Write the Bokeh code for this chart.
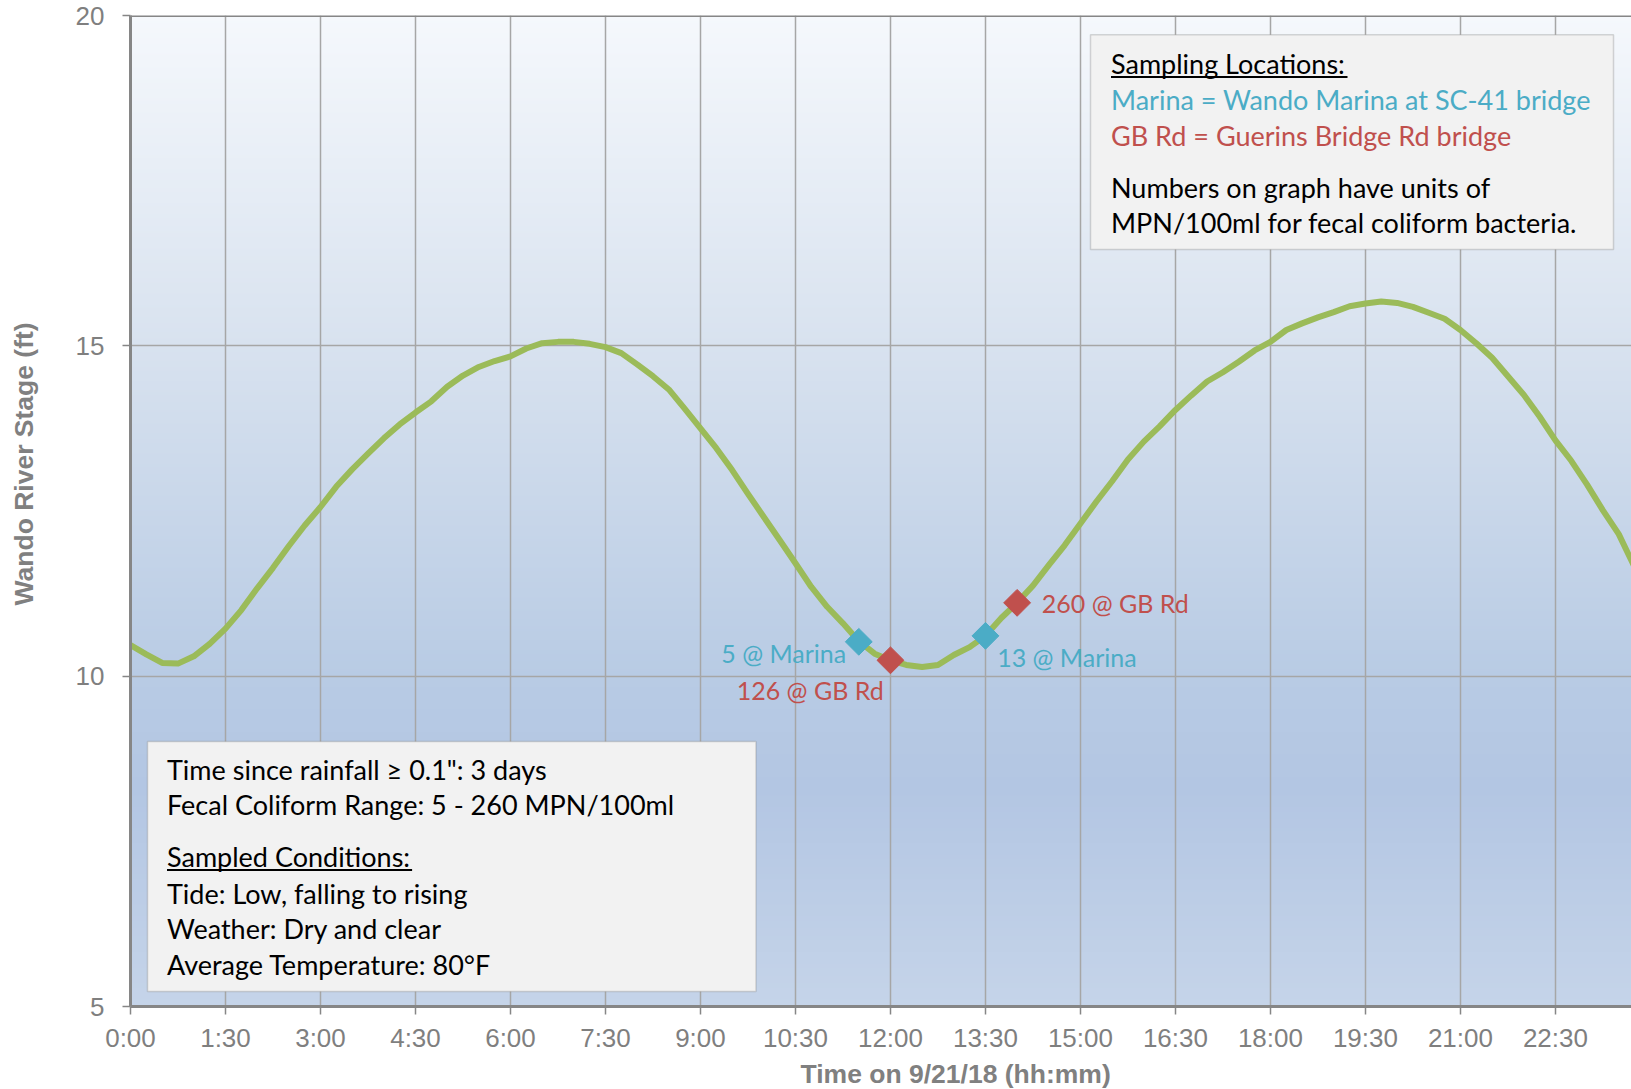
import numpy as np
from bokeh.plotting import figure
from bokeh.models import FixedTicker, Label, BoxAnnotation, Span, Range1d, Title
from bokeh.embed import file_html
from bokeh.resources import INLINE

# ---------------- data ----------------
time_h = [0.00, 0.25, 0.50, 0.75, 1.00, 1.25, 1.50, 1.75, 2.00, 2.25, 2.50, 2.75,
          3.00, 3.25, 3.50, 3.75, 4.00, 4.25, 4.50, 4.75, 5.00, 5.25, 5.50, 5.75,
          6.00, 6.25, 6.50, 6.75, 7.00, 7.25, 7.50, 7.75, 8.00, 8.25, 8.50, 8.75,
          9.00, 9.25, 9.50, 9.75, 10.00, 10.25, 10.50, 10.75, 11.00, 11.25, 11.50, 11.75,
          12.00, 12.25, 12.50, 12.75, 13.00, 13.25, 13.50, 13.75, 14.00, 14.25, 14.50, 14.75,
          15.00, 15.25, 15.50, 15.75, 16.00, 16.25, 16.50, 16.75, 17.00, 17.25, 17.50, 17.75,
          18.00, 18.25, 18.50, 18.75, 19.00, 19.25, 19.50, 19.75, 20.00, 20.25, 20.50, 20.75,
          21.00, 21.25, 21.50, 21.75, 22.00, 22.25, 22.50, 22.75, 23.00, 23.25, 23.50, 23.75]
stage_ft = [10.47, 10.33, 10.20, 10.19, 10.30, 10.49, 10.72, 11.00, 11.33, 11.64, 11.97, 12.28,
            12.56, 12.87, 13.13, 13.37, 13.60, 13.81, 13.99, 14.16, 14.38, 14.55, 14.68, 14.77,
            14.84, 14.96, 15.04, 15.06, 15.06, 15.03, 14.98, 14.89, 14.72, 14.54, 14.34, 14.05,
            13.75, 13.45, 13.12, 12.76, 12.41, 12.06, 11.71, 11.35, 11.05, 10.80, 10.53, 10.34,
            10.24, 10.17, 10.14, 10.17, 10.32, 10.44, 10.61, 10.88, 11.11, 11.37, 11.68, 11.98,
            12.31, 12.64, 12.95, 13.28, 13.55, 13.78, 14.03, 14.25, 14.46, 14.60, 14.76, 14.93,
            15.06, 15.24, 15.34, 15.43, 15.51, 15.60, 15.64, 15.67, 15.65, 15.59, 15.50, 15.41,
            15.24, 15.04, 14.82, 14.54, 14.26, 13.93, 13.57, 13.26, 12.90, 12.51, 12.15, 11.65]

marina_time = [11.5, 13.5]
marina_stage = [10.52, 10.61]
marina_label = ["5 @ Marina", "13 @ Marina"]

gb_time = [12.0, 14.0]
gb_stage = [10.24, 11.11]
gb_label = ["126 @ GB Rd", "260 @ GB Rd"]

x_ticks = [0.0, 1.5, 3.0, 4.5, 6.0, 7.5, 9.0, 10.5, 12.0, 13.5, 15.0, 16.5, 18.0, 19.5, 21.0, 22.5]
x_tick_labels = ["0:00", "1:30", "3:00", "4:30", "6:00", "7:30", "9:00", "10:30", "12:00",
                 "13:30", "15:00", "16:30", "18:00", "19:30", "21:00", "22:30"]
y_ticks = [5, 10, 15, 20]

locations_title = "Sampling Locations:"
locations_marina = "Marina = Wando Marina at SC-41 bridge"
locations_gb = "GB Rd = Guerins Bridge Rd bridge"
units_note = ["Numbers on graph have units of", "MPN/100ml for fecal coliform bacteria."]
info_lines = ['Time since rainfall \u2265 0.1": 3 days', "Fecal Coliform Range: 5 - 260 MPN/100ml"]
cond_title = "Sampled Conditions:"
cond_lines = ["Tide: Low, falling to rising", "Weather: Dry and clear", "Average Temperature: 80\u00b0F"]
x_title = "Time on 9/21/18 (hh:mm)"
y_title = "Wando River Stage (ft)"

# ---------------- layout / style ----------------
W, H = 1631, 1089
FL, FT, FB = 130, 15, 83
PX_PER_H = 63.33
FRAME_H = H - FT - FB
PX_PER_FT = FRAME_H / 15.0
X_END = (W - FL) / PX_PER_H
LBL_DY = 8.5  # labels render this much lower than their anchor


def X(px):
    return (px - FL) / PX_PER_H


def Y(py):
    return 20 - (py - FT) / PX_PER_FT


MARINA = "#4bacc6"
GB = "#c0504d"
GREEN = "#9bbb59"
AXIS = "#868686"
GRID = "#a6a6a6"
TICKTXT = "#7f7f7f"
TITLETXT = "#808080"
BOXFONT = "Lato"

p = figure(width=W, height=H, x_range=Range1d(0, X_END), y_range=Range1d(5, 20),
           output_backend="svg", toolbar_location=None,
           min_border_left=FL, min_border_right=0, min_border_top=FT, min_border_bottom=FB)
p.outline_line_color = None
p.background_fill_color = "white"
p.border_fill_color = "white"

# gradient background of plot area
N = 991
stops_f = [0.0, 0.333, 0.667, 0.78, 1.0]
stops_c = np.array([(245, 248, 252), (216, 226, 239), (184, 203, 228), (179, 198, 227), (197, 212, 233)], float)
fr = np.linspace(1, 0, N)
img = np.empty((N, 2), dtype=np.uint32)
view = img.view(dtype=np.uint8).reshape((N, 2, 4))
for c in range(3):
    col = np.interp(fr, stops_f, stops_c[:, c])
    view[:, :, c] = np.round(col)[:, None].astype(np.uint8)
view[:, :, 3] = 255
p.image_rgba(image=[img], x=0, y=5, dw=X_END, dh=15, level="image")

# grids
p.xgrid.ticker = FixedTicker(ticks=x_ticks)
p.ygrid.ticker = FixedTicker(ticks=y_ticks)
for g in (p.xgrid, p.ygrid):
    g.grid_line_color = GRID
    g.grid_line_width = 1.5

# axes
p.xaxis.ticker = FixedTicker(ticks=x_ticks)
p.xaxis.major_label_overrides = {t: l for t, l in zip(x_ticks, x_tick_labels)}
p.yaxis.ticker = FixedTicker(ticks=y_ticks)
for ax in (p.xaxis, p.yaxis):
    ax.axis_line_color = AXIS
    ax.axis_line_width = 3
    ax.major_tick_line_color = AXIS
    ax.major_tick_line_width = 1.5
    ax.major_tick_out = 8
    ax.major_tick_in = 0
    ax.minor_tick_line_color = None
    ax.major_label_text_font = "Liberation Sans"
    ax.major_label_text_font_size = "26px"
    ax.major_label_text_color = TICKTXT
p.xaxis.major_label_standoff = 8
p.yaxis.major_label_standoff = 18

p.add_layout(Span(location=20, dimension="width", line_color=AXIS, line_width=3))

# axis titles (side-panel titles so they can sit off-centre like the original)
p.add_layout(Title(text=x_title, align="left", offset=670, standoff=2,
                   text_font="Liberation Sans", text_font_style="bold",
                   text_font_size="26.5px", text_color=TITLETXT), "below")
p.add_layout(Title(text=y_title + "\n", align="left", offset=401, standoff=0, vertical_align="top",
                   text_font="Liberation Sans", text_font_style="bold", text_line_height=1.05,
                   text_font_size="26.5px", text_color=TITLETXT), "left")

# tide curve and samples
p.line(time_h, stage_ft, line_color=GREEN, line_width=6, line_join="round")
p.scatter(marina_time, marina_stage, marker="square", size=19, angle=np.pi / 4,
          fill_color=MARINA, line_color=MARINA)
p.scatter(gb_time, gb_stage, marker="square", size=19, angle=np.pi / 4,
          fill_color=GB, line_color=GB)

marina_off = [(-12.6, -20, "right"), (11.7, -30, "left")]
gb_off = [(-6.7, -38, "right"), (24.7, -9, "left")]
for t, v, s, (dx, dy, al) in zip(marina_time, marina_stage, marina_label, marina_off):
    p.add_layout(Label(x=t, y=v, x_offset=dx, y_offset=dy + LBL_DY, text=s, text_align=al,
                       text_baseline="alphabetic", text_font=BOXFONT, text_font_size="25px",
                       text_color=MARINA))
for t, v, s, (dx, dy, al) in zip(gb_time, gb_stage, gb_label, gb_off):
    p.add_layout(Label(x=t, y=v, x_offset=dx, y_offset=dy + LBL_DY, text=s, text_align=al,
                       text_baseline="alphabetic", text_font=BOXFONT, text_font_size="25px",
                       text_color=GB))


def box(l, r, t, b):
    p.add_layout(BoxAnnotation(left=X(l), right=X(r), top=Y(t), bottom=Y(b),
                               fill_color="#f2f2f2", fill_alpha=1,
                               line_color="#7f7f7f", line_width=1.5))


def txt(x, y, s, color="black", size="27px"):
    p.add_layout(Label(x=X(x), y=Y(y - LBL_DY), text=s, text_align="left", text_baseline="alphabetic",
                       text_font=BOXFONT, text_font_size=size, text_color=color))


def underline(l, r, y):
    p.add_layout(BoxAnnotation(left=X(l), right=X(r), top=Y(y - 1), bottom=Y(y + 1),
                               fill_color="black", fill_alpha=1, line_color=None))


# top-right box
box(1090, 1613, 34.3, 249)
txt(1110.5, 71, locations_title)
underline(1110.5, 1347, 76.5)
txt(1110.5, 107, locations_marina, MARINA)
txt(1110.5, 143, locations_gb, GB)
txt(1110.5, 195, units_note[0])
txt(1110.5, 230, units_note[1])

# lower-left box
box(147, 755.5, 741, 991)
txt(166.5, 777, info_lines[0])
txt(166.5, 812, info_lines[1])
txt(166.5, 864.5, cond_title)
underline(166.5, 411.6, 869.5)
txt(166.5, 901, cond_lines[0])
txt(166.5, 936.5, cond_lines[1])
txt(166.5, 972, cond_lines[2])

open("out.html", "w").write(file_html(p, INLINE))
